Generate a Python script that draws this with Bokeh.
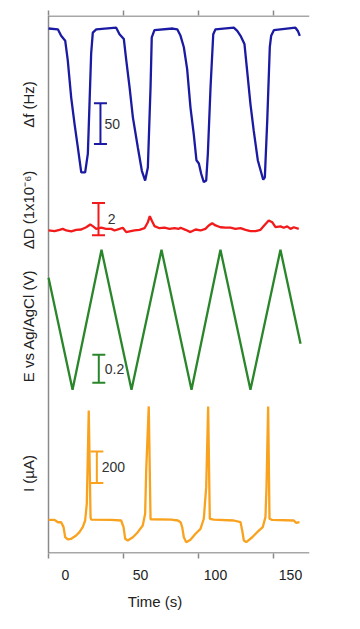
from bokeh.plotting import figure
from bokeh.models import Range1d, LinearAxis, FixedTicker, Label, CustomLabelingPolicy
from bokeh.embed import file_html
from bokeh.resources import INLINE
from bokeh.core.properties import value
import math

FONT = "Liberation Sans"

# ---- data (time in s) ----
t_f = [-11.3, -5.1, -2.9, -0.2, 1.5, 3.8, 6.0, 8.2, 10.5, 13.1, 14.9, 16.0, 17.1, 18.2, 20.5,
       33.8, 36.0, 38.9, 40.5, 42.7, 44.9, 48.2, 50.9, 53.1, 54.9, 56.7, 57.5, 59.3,
       71.5, 74.5, 76.7, 78.9, 81.1, 83.3, 85.5, 87.3, 88.9, 90.5, 92.2, 93.8, 94.9, 96.7, 98.5, 100.0,
       112.2, 114.5, 116.7, 119.3, 121.1, 123.3, 125.5, 128.2, 131.8, 132.9, 134.5, 136.2, 137.1, 138.9,
       153.3, 154.9, 156.2]
delta_f = [0, -1, -9, -15, -39, -85, -117, -146, -177, -177, -154, -93, -31, -5, -1,
           1, -7, -13, -39, -72, -109, -146, -175, -187, -171, -72, -11, -2,
           0, -1, -9, -23, -50, -97, -130, -162, -166, -179, -189, -187, -154, -72, -7, -1,
           1, -3, -9, -19, -52, -93, -126, -162, -186, -183, -113, -23, -9, -2,
           1, -3, -9]

t_d = [-11.3, -7.3, -4.0, -1.8, 0.5, 3.8, 7.1, 10.5, 13.8, 16.5, 18.2, 20.5, 23.8, 27.1, 30.5,
       32.7, 36.0, 38.2, 40.5, 42.7, 46.0, 49.3, 52.7, 54.9, 56.2, 57.5, 59.3, 62.7, 66.0, 69.3,
       72.7, 75.5, 76.7, 80.0, 83.3, 86.7, 90.0, 93.3, 95.5, 97.8, 100.0, 103.3, 106.7, 110.0, 113.3,
       116.7, 120.0, 123.3, 126.7, 130.0, 132.9, 135.5, 137.8, 140.0, 143.3, 145.5, 147.8, 150.0,
       152.2, 155.5]
delta_D = [0.00, -0.04, 0.04, 0.10, 0.00, -0.06, 0.04, 0.06, 0.20, 0.37, 0.27, 0.10, 0.17, 0.10, 0.10,
           0.00, 0.10, 0.17, -0.10, -0.06, 0.00, 0.04, 0.14, 0.51, 0.88, 0.62, 0.27, 0.14, 0.17, 0.10,
           0.14, 0.10, 0.17, 0.04, -0.10, 0.06, 0.00, 0.10, 0.31, 0.45, 0.31, 0.20, 0.17, 0.17, 0.10,
           0.14, 0.04, -0.04, -0.04, 0.04, 0.35, 0.62, 0.51, 0.20, 0.25, 0.17, 0.25, 0.10,
           0.20, 0.10]

t_E = [-11.3, 4.7, 24.0, 44.0, 64.0, 84.0, 103.3, 123.3, 143.3, 156.7]
potential = [0.0, -0.8, 0.2, -0.8, 0.2, -0.8, 0.2, -0.8, 0.2, -0.47]

t_i = [-11.3, -7.3, -5.1, -2.9, -1.3, -0.2, 1.5, 3.8, 7.1, 9.3, 11.5, 13.1, 14.2, 14.9, 15.5, 16.7, 17.1,
       30.5, 37.1, 38.7, 39.8, 41.5, 44.9, 48.2, 51.5, 53.1, 53.8, 55.5, 56.7,
       70.5, 74.9, 76.7, 77.8, 78.9, 80.5, 83.3, 86.7, 90.0, 92.2, 93.8, 95.1, 96.2, 98.9,
       112.2, 116.7, 117.8, 118.9, 120.5, 124.5, 127.8, 131.5, 133.3, 134.0, 135.1, 136.0, 137.8,
       152.2, 153.8, 156.0]
current = [4, 4, -11, -11, -42, -106, -120, -116, -95, -74, -42, 0, 106, 422, 696, 21, 6,
           4, 0, -42, -116, -127, -106, -74, -32, 42, 316, 722, 8,
           6, 0, -11, -42, -106, -137, -122, -84, -53, 11, 211, 722, 11, 6,
           0, -11, -63, -127, -137, -106, -74, -42, 21, 211, 722, 11, 4,
           0, -15, -11]

x_ticks = [-11.33, 38.67, 88.67, 138.67]
x_tick_labels = [0, 50, 100, 150]

series_labels = ["Δf (Hz)", "ΔD (1x10⁻⁶)", "E vs Ag/AgCl (V)", "I (µA)"]
scale_lengths = [50, 2, 0.2, 200]
scale_texts = ["50", "2", "0.2", "200"]

# ---- layout/style ----
colors = ["#1a1aa3", "#f21a1a", "#2a862a", "#f9a21e"]
range_names = ["df", "dD", "E", "I"]
AX = "#8a8a8a"
X0, X1 = -11.333, 162.667   # extent of the drawn axes (time)
XL = -43.333                 # frame extends left so the series labels fit

p = figure(width=350, height=620, output_backend="svg", toolbar_location=None,
           x_range=Range1d(XL, X1), y_range=Range1d(0, 538),
           min_border_left=0, min_border_right=41, min_border_top=15, min_border_bottom=67)
p.outline_line_color = None
p.grid.visible = False
p.yaxis.visible = False
p.background_fill_color = "white"
p.border_fill_color = "white"
p.extra_y_ranges = {
    "df": Range1d(-645.8, 16.0),
    "dD": Range1d(-19.94, 13.27),
    "E": Range1d(-1.969, 1.874),
    "I": Range1d(-208.9, 3196.0),
}


def no_labels():
    return CustomLabelingPolicy(code="for (const i of Array.from(indices)) indices.unset(i); return indices;")


def tick_axis(ax):
    ax.ticker = FixedTicker(ticks=x_ticks)
    ax.major_tick_out = 5
    ax.major_tick_in = 0
    ax.minor_tick_line_color = None
    ax.major_tick_line_color = AX
    ax.major_tick_line_width = 1.5
    ax.axis_line_color = None
    ax.major_label_text_font_size = "0px"
    ax.major_label_standoff = 0
    ax.major_label_policy = no_labels()


tick_axis(p.xaxis[0])
top = LinearAxis()
tick_axis(top)
p.add_layout(top, "above")

lab_axis = LinearAxis(ticker=FixedTicker(ticks=x_tick_labels), axis_label="Time (s)")
lab_axis.axis_line_color = None
lab_axis.major_tick_line_color = None
lab_axis.minor_tick_line_color = None
lab_axis.major_tick_out = 0
lab_axis.major_tick_in = 0
lab_axis.major_label_standoff = 11
lab_axis.major_label_text_font = FONT
lab_axis.major_label_text_font_size = "14px"
lab_axis.major_label_text_color = "#222222"
lab_axis.axis_label_text_font = FONT
lab_axis.axis_label_text_font_size = "15px"
lab_axis.axis_label_text_font_style = "normal"
lab_axis.axis_label_text_color = "#222222"
lab_axis.axis_label_standoff = 10
p.add_layout(lab_axis, "below")

# axis frame lines (left, top, bottom)
p.segment(x0=[X0, X0, X0], y0=[0, 537.6, 0.4], x1=[X0, X1, X1], y1=[538, 537.6, 0.4],
          line_color=AX, line_width=1.5)

# traces
traces = [(t_f, delta_f), (t_d, delta_D), (t_E, potential), (t_i, current)]
for (tx, ty), c, rn in zip(traces, colors, range_names):
    p.line(tx, ty, color=c, line_width=2.3, y_range_name=rn)

# scale bars
bar_t = [23.3, 22.0, 22.2, 20.9]
bar_lo = [-142, -0.3, -0.75, 237]
text_t = [26.0, 28.2, 26.2, 24.2]
for bt, lo, L, txt, tt, c, rn in zip(bar_t, bar_lo, scale_lengths, scale_texts, text_t, colors, range_names):
    hi = lo + L
    p.segment(x0=[bt], y0=[lo], x1=[bt], y1=[hi], color=c, line_width=2, y_range_name=rn)
    p.scatter(x=[bt, bt], y=[lo, hi], marker="dash", size=13, line_color=c, line_width=2,
              y_range_name=rn)
    p.text(x=[tt], y=[(lo + hi) / 2], text=[txt], text_font=value(FONT), text_font_size="14px",
           text_color="#333333", text_align="left", text_baseline="middle", y_range_name=rn)

# rotated series labels (y in pixel-scale default range)
label_y = [449, 343.5, 227.5, 80]
for s, ly in zip(series_labels, label_y):
    p.add_layout(Label(x=28, x_units="screen", y=ly, text=s, angle=math.pi / 2,
                       text_align="center", text_baseline="middle", text_font=FONT,
                       text_font_size="15px", text_color="#222222"))

open("out.html", "w").write(file_html(p, INLINE))
